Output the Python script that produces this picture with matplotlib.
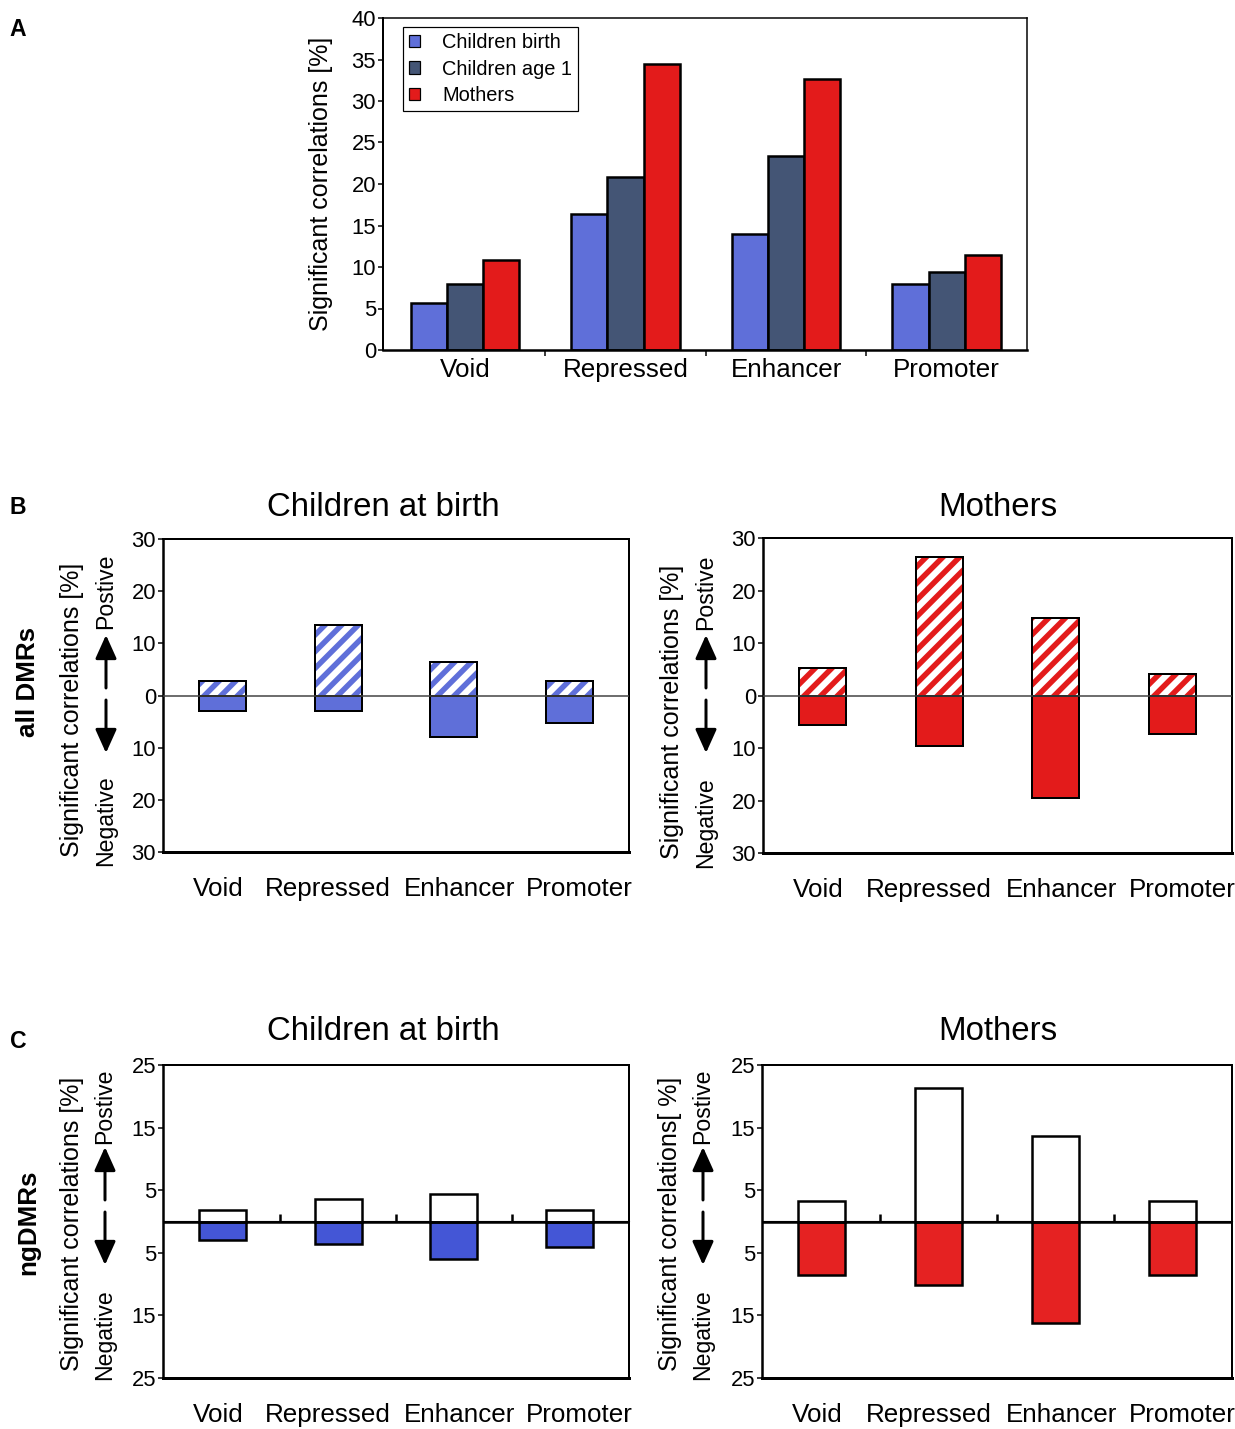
import numpy as np
import matplotlib
matplotlib.use("Agg")
import matplotlib.pyplot as plt
from matplotlib.patches import Patch, FancyArrowPatch

# sizes below are written in pixels and converted to points with P()
DPI = 100


def P(v):
    return v * 72 / DPI


plt.rcParams['font.family'] = ['Liberation Sans', 'DejaVu Sans']
plt.rcParams['hatch.linewidth'] = P(5.5)

categories = ['Void', 'Repressed', 'Enhancer', 'Promoter']

# Panel A
series_a = ['Children birth', 'Children age 1', 'Mothers']
birth_a = [5.7, 16.4, 14.0, 7.9]
age1_a = [7.9, 20.9, 23.4, 9.45]
mothers_a = [10.85, 34.4, 32.7, 11.4]

# Panel B - all DMRs (positive / negative correlations)
b_child_pos = [2.7, 13.5, 6.4, 2.8]
b_child_neg = [3.0, 3.0, 8.0, 5.2]
b_moth_pos = [5.15, 26.4, 14.7, 4.1]
b_moth_neg = [5.6, 9.6, 19.6, 7.4]

# Panel C - ngDMRs
c_child_pos = [1.9, 3.55, 4.35, 1.9]
c_child_neg = [3.0, 3.6, 6.0, 4.0]
c_moth_pos = [3.3, 21.3, 13.7, 3.3]
c_moth_neg = [8.6, 10.2, 16.2, 8.6]

b_ticks = [30, 20, 10, 0, -10, -20, -30]
c_ticks = [25, 15, 5, -5, -15, -25]

col_birth = '#5f6fd9'
col_age1 = '#445575'
col_moth = '#e31b1b'
col_blue_c = '#4456d6'
col_red_c = '#e52222'

# category label offsets in B/C (in bar-slot units), as in the original layout
label_shift = [-0.035, -0.085, 0.05, 0.085]

W, H = 1235, 1429
fig = plt.figure(figsize=(W / DPI, H / DPI), dpi=DPI)


def box(x0, y0, x1, y1):
    # pixel box (origin top-left) -> figure fraction rect
    return [x0 / W, 1 - y1 / H, (x1 - x0) / W, (y1 - y0) / H]


def fp(x, y):
    return (x / W, 1 - y / H)


# ---------------- Panel A ----------------
axA = fig.add_axes(box(383, 18, 1027, 350))
xa = np.arange(len(categories))
bw = 0.225
for i, (vals, col, lab) in enumerate(zip([birth_a, age1_a, mothers_a],
                                         [col_birth, col_age1, col_moth], series_a)):
    axA.bar(xa + (i - 1) * bw, vals, bw, color=col, edgecolor='black', linewidth=P(2.5), label=lab)
axA.set_xlim(-0.51, 3.5)
axA.set_ylim(0, 40)
axA.set_yticks(range(0, 41, 5))
axA.set_xticks(xa)
axA.set_xticklabels(categories, fontsize=P(26))
axA.set_xticks(xa[:-1] + 0.5, minor=True)
axA.tick_params(axis='x', which='major', length=0, pad=P(8))
axA.tick_params(axis='x', which='minor', length=P(6), width=P(1.5))
axA.tick_params(axis='y', labelsize=P(22), length=P(5), width=P(1.5), pad=P(2))
axA.set_ylabel('Significant correlations [%]', fontsize=P(25), labelpad=P(18))
for s in axA.spines.values():
    s.set_linewidth(P(1.5))
axA.spines['bottom'].set_linewidth(P(2.5))
axA.spines['left'].set_linewidth(P(2))
handles = [Patch(facecolor=c, edgecolor='black', linewidth=P(1.2), label=l)
           for c, l in zip([col_birth, col_age1, col_moth], series_a)]
leg = axA.legend(handles=handles, loc='upper left', bbox_to_anchor=(0.031, 0.973),
                 borderaxespad=0, fontsize=P(20), handlelength=0.55, handleheight=0.55,
                 handletextpad=1.1, labelspacing=0.38, borderpad=0.3,
                 fancybox=False, framealpha=1)
leg.get_frame().set_edgecolor('black')
leg.get_frame().set_linewidth(P(1.2))

fig.text(*fp(18, 30), 'A', fontsize=P(23), fontweight='bold', ha='center', va='center')


# ---------------- Panels B and C ----------------
def split_panel(rect, pos, neg, color, lim, ticks, hatched, title, title_xy):
    ax = fig.add_axes(box(*rect))
    x = np.arange(len(categories))
    w = 0.405
    if hatched:
        ax.bar(x, pos, w, color='white', edgecolor=color, hatch='//', linewidth=0)
        ax.bar(x, pos, w, fill=False, edgecolor='black', linewidth=P(2))
        ax.bar(x, [-v for v in neg], w, color=color, edgecolor='black', linewidth=P(2))
        ax.axhline(0, color='0.25', lw=P(1.5), zorder=3)
    else:
        ax.bar(x, pos, w, color='white', edgecolor='black', linewidth=P(2.5))
        ax.bar(x, [-v for v in neg], w, color=color, edgecolor='black', linewidth=P(2.5))
        ax.axhline(0, color='black', lw=P(2.5), zorder=3)
        sec = ax.secondary_xaxis(0.5)
        sec.set_xticks(x[:-1] + 0.5)
        sec.set_xticklabels([])
        sec.tick_params(length=P(7), width=P(2.5), direction='out')
        sec.spines['bottom'].set_visible(False)
    ax.set_xlim(-0.51, 3.51)
    ax.set_ylim(-lim, lim)
    ax.set_yticks(ticks)
    ax.set_yticklabels([str(abs(t)) for t in ticks])
    ax.set_xticks(x + np.array(label_shift))
    ax.set_xticklabels(categories, fontsize=P(26))
    ax.tick_params(axis='x', length=0, pad=P(25))
    ax.tick_params(axis='y', labelsize=P(22), length=P(5), width=P(1.5), pad=P(2))
    for s in ax.spines.values():
        s.set_linewidth(P(2))
    ax.spines['left'].set_linewidth(P(2.5))
    ax.spines['bottom'].set_linewidth(P(3))
    fig.text(*fp(*title_xy), title, fontsize=P(33), ha='center', va='center')
    return ax


def side_label(x_main, x_pn, y_top, y_bot, y_mid, text_main):
    fig.text(*fp(x_main, (y_top + y_bot) / 2), text_main, rotation=90,
             ha='center', va='center', fontsize=P(25))
    fig.text(*fp(x_pn, y_top), 'Postive', rotation=90, ha='center', va='top', fontsize=P(23))
    fig.text(*fp(x_pn, y_bot), 'Negative', rotation=90, ha='center', va='bottom', fontsize=P(23))
    for y0, y1 in [(y_mid - 7, y_mid - 60), (y_mid + 5, y_mid + 58)]:
        arr = FancyArrowPatch(fp(x_pn, y0), fp(x_pn, y1), transform=fig.transFigure,
                              arrowstyle='-|>,head_length=1.0,head_width=0.45',
                              mutation_scale=P(20), lw=P(3), color='black',
                              shrinkA=0, shrinkB=0)
        fig.add_artist(arr)


split_panel((163, 539, 629, 852), b_child_pos, b_child_neg, col_birth, 30, b_ticks,
            True, 'Children at birth', (383, 507))
split_panel((763, 538, 1232, 853), b_moth_pos, b_moth_neg, col_moth, 30, b_ticks,
            True, 'Mothers', (998, 507))
split_panel((163, 1065, 629, 1378), c_child_pos, c_child_neg, col_blue_c, 25, c_ticks,
            False, 'Children at birth', (383, 1032))
split_panel((762, 1065, 1232, 1378), c_moth_pos, c_moth_neg, col_red_c, 25, c_ticks,
            False, 'Mothers', (998, 1032))

side_label(72, 106, 553, 866, 695, 'Significant correlations [%]')
side_label(672, 706, 555, 868, 695, 'Significant correlations [%]')
side_label(72, 105, 1068, 1380, 1207, 'Significant correlations [%]')
side_label(670, 703, 1068, 1380, 1207, 'Significant correlations[ %]')

fig.text(*fp(18, 507), 'B', fontsize=P(23), fontweight='bold', ha='center', va='center')
fig.text(*fp(18, 1041), 'C', fontsize=P(23), fontweight='bold', ha='center', va='center')
fig.text(*fp(28, 682), 'all DMRs', fontsize=P(26), fontweight='bold', rotation=90,
         ha='center', va='center')
fig.text(*fp(28, 1222), 'ngDMRs', fontsize=P(26), fontweight='bold', rotation=90,
         ha='center', va='center')

fig.savefig('out.png', dpi=DPI)
